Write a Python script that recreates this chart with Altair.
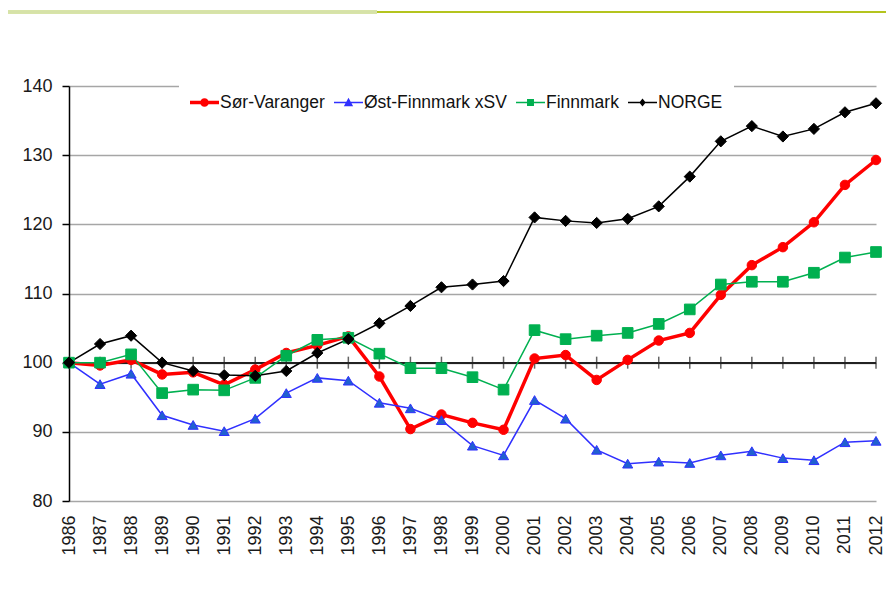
import altair as alt
import pandas as pd

years = list(range(1986, 2013))
series_names = ["Sør-Varanger", "Øst-Finnmark xSV", "Finnmark", "NORGE"]
sor_varanger = [100, 99.6, 100.4, 98.3, 98.6, 96.8, 99.0, 101.4, 102.5, 103.8, 98.0, 90.4, 92.5, 91.3,
                90.3, 100.6, 101.1, 97.5, 100.4, 103.2, 104.3, 109.8, 114.1, 116.7, 120.3, 125.7, 129.3]
ost_finnmark = [100, 96.9, 98.4, 92.4, 91.0, 90.1, 91.9, 95.6, 97.8, 97.4, 94.2, 93.4, 91.7, 88.0,
                86.6, 94.6, 91.9, 87.4, 85.4, 85.7, 85.5, 86.6, 87.2, 86.2, 85.9, 88.5, 88.7]
finnmark = [100, 100.0, 101.2, 95.6, 96.1, 96.0, 97.8, 101.0, 103.3, 103.6, 101.3, 99.2, 99.2, 97.9,
            96.1, 104.7, 103.4, 103.9, 104.3, 105.6, 107.7, 111.3, 111.7, 111.7, 113.0, 115.2, 116.0]
norge = [100, 102.7, 103.9, 100.0, 98.8, 98.2, 98.1, 98.8, 101.4, 103.4, 105.7, 108.2, 110.9, 111.3,
         111.8, 121.0, 120.5, 120.2, 120.8, 122.6, 126.9, 132.0, 134.2, 132.7, 133.8, 136.2, 137.5]
y_ticks = [80, 90, 100, 110, 120, 130, 140]

stroke_colors = ["#ff0000", "#3030ff", "#00b050", "#000000"]
fill_colors = ["#ff0000", "#2060d0", "#00b050", "#000000"]
shapes = ["circle", "triangle-up", "square", "diamond"]
marker_sizes = [90, 125, 70, 48]
# legend symbols: a thin filled bar (the line) plus the marker, in a [-1, 1] box
legend_paths = [
    "M-1,-0.12H1V0.12H-1ZM0.3,0A0.3,0.3 0 1,1 -0.3,0A0.3,0.3 0 1,1 0.3,0Z",
    "M-1,-0.05H1V0.05H-1ZM0,-0.32L0.32,0.26L-0.32,0.26Z",
    "M-1,-0.05H1V0.05H-1ZM-0.24,-0.24H0.24V0.24H-0.24Z",
    "M-1,-0.05H1V0.05H-1ZM0,-0.27L0.22,0L0,0.27L-0.22,0Z",
]

rows = []
for name, vals in zip(series_names, [sor_varanger, ost_finnmark, finnmark, norge]):
    for yr, v in zip(years, vals):
        rows.append({"year": yr, "value": v, "series": name})
df = pd.DataFrame(rows)
years_df = pd.DataFrame({"year": years})

FONT = "Liberation Sans"

x_enc = alt.X("year:O", scale=alt.Scale(type="point", padding=0, domain=years),
              axis=alt.Axis(labelAngle=-90, labelAlign="right",
                            labelBaseline="middle", labelPadding=14, labelFontSize=18,
                            labelFont=FONT, labelColor="#1a1a1a", domain=False, ticks=False,
                            grid=False, title=None, labelOverlap=False))
y_enc = alt.Y("value:Q", scale=alt.Scale(domain=[80, 140], nice=False, zero=False),
              axis=alt.Axis(values=y_ticks, labelFontSize=18, labelFont=FONT,
                            labelColor="#1a1a1a", labelPadding=10, tickSize=7, tickColor="#000",
                            tickWidth=1.5, domainColor="#000", domainWidth=1.5, grid=True,
                            gridColor="#a6a6a6", gridWidth=1.5, title=None))

dom = series_names

lines = alt.Chart(df).mark_line().encode(
    x=x_enc, y=y_enc,
    stroke=alt.Stroke("series:N", scale=alt.Scale(domain=dom, range=stroke_colors), legend=None),
    strokeWidth=alt.condition(alt.datum.series == "Sør-Varanger", alt.value(3.5), alt.value(1.5)),
)

points = alt.Chart(df).mark_point(filled=False, opacity=1, strokeWidth=1).encode(
    x=x_enc, y=y_enc,
    stroke=alt.Stroke("series:N", scale=alt.Scale(domain=dom, range=stroke_colors), legend=None),
    fill=alt.Fill("series:N", scale=alt.Scale(domain=dom, range=fill_colors), legend=None),
    shape=alt.Shape("series:N", scale=alt.Scale(domain=dom, range=shapes), legend=None),
    size=alt.Size("series:N", scale=alt.Scale(domain=dom, range=marker_sizes), legend=None),
)

leg = alt.Legend(orient="none", legendX=110, legendY=-9, direction="horizontal",
                 fillColor="white", padding=11, symbolSize=841, labelOffset=1,
                 columnPadding=9, labelFontSize=17.5, labelFont=FONT, labelColor="#111",
                 title=None, symbolOpacity=1, symbolStrokeWidth=0)

legend_layer = alt.Chart(df).mark_point(filled=True, opacity=0).encode(
    x=x_enc, y=y_enc,
    fill=alt.Fill("series:N", scale=alt.Scale(domain=dom, range=stroke_colors), legend=leg),
    shape=alt.Shape("series:N", scale=alt.Scale(domain=dom, range=legend_paths), legend=leg),
)

base_rule = alt.Chart(years_df).mark_rule(color="#222", strokeWidth=1.5).encode(
    y=alt.datum(100))

ticks100 = alt.Chart(years_df).mark_tick(orient="vertical", color="#222", size=12,
                                         thickness=1.5).encode(
    x=x_enc, y=alt.datum(100))

top_light = alt.Chart(years_df).mark_rule(color="#d6e2a8", strokeWidth=2.5).encode(
    x=alt.value(-61), x2=alt.value(308), y=alt.value(-74))
top_dark = alt.Chart(years_df).mark_rule(color="#b4c41e", strokeWidth=2).encode(
    x=alt.value(308), x2=alt.value(830), y=alt.value(-74))

chart = alt.layer(
    top_light, top_dark, base_rule, ticks100, lines, points, legend_layer
).resolve_scale(
    fill="independent", shape="independent"
).properties(
    width=807, height=415,
    autosize=alt.AutoSizeParams(type="none"),
    padding={"left": 61, "top": 78, "right": 10, "bottom": 90},
).configure_view(stroke=None)

chart.save("out.html", embed_options={"renderer": "svg", "actions": False})
